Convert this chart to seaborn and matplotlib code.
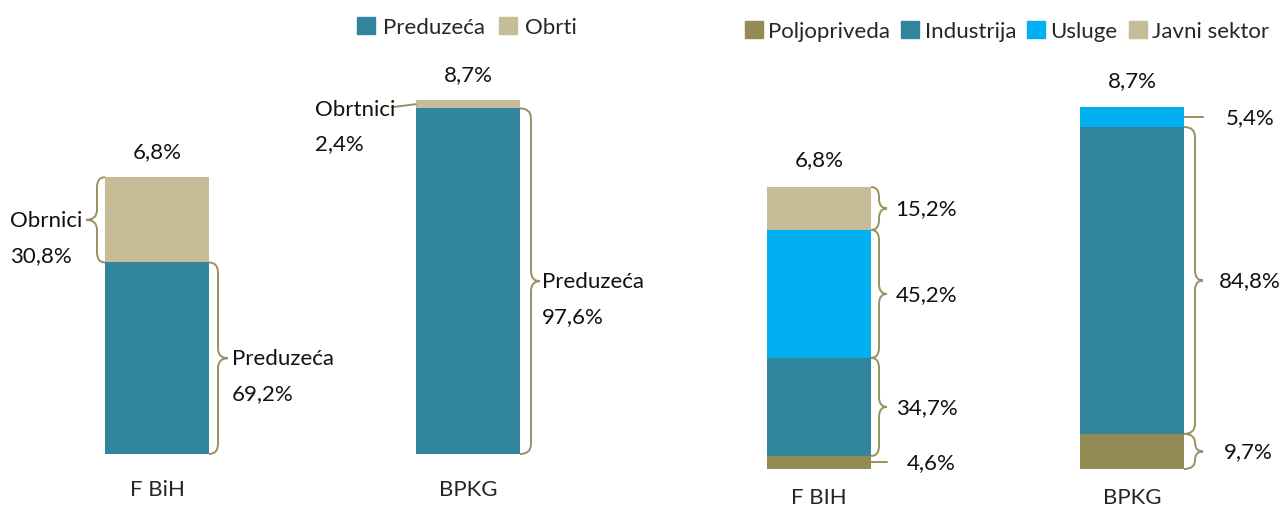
import numpy as np
import matplotlib
matplotlib.use("Agg")
import matplotlib.pyplot as plt
from matplotlib.path import Path
from matplotlib.patches import PathPatch, Patch
import seaborn as sns

### data
# left: enterprises vs crafts
regions_left = ["F BiH", "BPKG"]
totals_left = [6.8, 8.7]
preduzeca_share = [69.2, 97.6]
obrti_share = [30.8, 2.4]

# right: by sector
regions_right = ["F BIH", "BPKG"]
totals_right = [6.8, 8.7]
poljo_share = [4.6, 9.7]
industrija_share = [34.7, 84.8]
usluge_share = [45.2, 5.4]
javni_share = [15.2, 0.0]

TEAL = "#31859C"
TAN = "#C4BD97"
CYAN = "#00B0F0"
OLIVE = "#948A54"
BRACE = "#9A9060"

sns.set_theme(style="white")
plt.rcParams["font.family"] = ["Lato", "DejaVu Sans"]
FS = 16

fig = plt.figure(figsize=(12.8, 5.1), dpi=100)
W, H = 1280, 510

axL = fig.add_axes([1.5 / W, 55 / H, 622 / W, 407 / H])
axR = fig.add_axes([662.5 / W, 40 / H, 610.35 / W, 416 / H])
wL = 104 / 311
wR = 104 / 313


def stacked(ax, cats, totals, shares, colors, width):
    totals = np.array(totals, dtype=float)
    cum = np.zeros(len(cats))
    bounds = []
    for sh in shares:
        seg = totals * np.array(sh) / 100
        bounds.append((cum.copy(), cum + seg))
        cum = cum + seg
    # draw cumulative tops, biggest first, so lower layers overlay
    for (lo, hi), col in reversed(list(zip(bounds, colors))):
        sns.barplot(x=cats, y=hi, color=col, width=width, saturation=1,
                    linewidth=0, ax=ax)
    return bounds, totals


def px(ax, n, axis="x"):
    bb = ax.get_position()
    if axis == "x":
        lo, hi = ax.get_xlim()
        return n * (hi - lo) / (bb.width * W)
    lo, hi = ax.get_ylim()
    return n * (hi - lo) / (bb.height * H)


def brace(ax, x, y0, y1, side=1, dx=9, tip=9, r=10):
    ddx = px(ax, dx) * side
    dtip = px(ax, tip) * side
    rr = min(px(ax, r, "y"), (y1 - y0) / 4)
    ym = (y0 + y1) / 2
    xs = x + ddx
    verts = [(x, y1), (xs, y1), (xs, y1 - rr),
             (xs, ym + rr), (xs, ym), (xs + dtip, ym),
             (xs, ym), (xs, ym - rr),
             (xs, y0 + rr), (xs, y0), (x, y0)]
    codes = [Path.MOVETO, Path.CURVE3, Path.CURVE3,
             Path.LINETO, Path.CURVE3, Path.CURVE3,
             Path.CURVE3, Path.CURVE3,
             Path.LINETO, Path.CURVE3, Path.CURVE3]
    ax.add_patch(PathPatch(Path(verts, codes), facecolor="none",
                           edgecolor=BRACE, lw=1.4, clip_on=False))
    return xs + dtip, ym


def label(ax, xy, text, off, ha="left"):
    ax.annotate(text, xy=xy, xytext=off, textcoords="offset pixels",
                ha=ha, va="center", fontsize=FS, color="#111111",
                annotation_clip=False)


def pct(v):
    return f"{v:.1f}%".replace(".", ",")


boundsL, totL = stacked(axL, regions_left, totals_left,
                        [preduzeca_share, obrti_share], [TEAL, TAN], wL)
boundsR, totR = stacked(axR, regions_right, totals_right,
                        [poljo_share, industrija_share, usluge_share, javni_share],
                        [OLIVE, TEAL, CYAN, TAN], wR)
axL.set_xlim(-0.5, 1.5)
axR.set_xlim(-0.5, 1.45)
axL.set_ylim(0, 10)
axR.set_ylim(0, 10)

# totals on top
for ax, tots, pad in ((axL, totL, 26), (axR, totR, 27)):
    for i, t in enumerate(tots):
        label(ax, (i, t), pct(t), (0, pad), ha="center")

# left panel annotations
lo, hi = boundsL[1]
tx, ty = brace(axL, 0 - wL / 2, lo[0], hi[0], side=-1, dx=8, tip=11)
label(axL, (tx, ty), "Obrnici", (-76, 0))
label(axL, (tx, ty), pct(obrti_share[0]), (-76, -35))

lo, hi = boundsL[0]
tx, ty = brace(axL, 0 + wL / 2, lo[0], hi[0], side=1, dx=9, tip=10)
label(axL, (tx, ty), "Preduzeća", (4, 0))
label(axL, (tx, ty), pct(preduzeca_share[0]), (4, -35))
tx, ty = brace(axL, 1 + wL / 2, lo[1], hi[1], side=1, dx=11, tip=9)
label(axL, (tx, ty), "Preduzeća", (2, 0))
label(axL, (tx, ty), pct(preduzeca_share[1]), (2, -35))

lo, hi = boundsL[1]
ex, ey = 1 - wL / 2, (lo[1] + hi[1]) / 2
axL.plot([ex, ex - px(axL, 24)], [ey, ey - px(axL, 3, "y")], color=BRACE,
         lw=1.4, clip_on=False)
label(axL, (ex, ey), "Obrtnici", (-101, -5))
label(axL, (ex, ey), pct(obrti_share[1]), (-101, -39))

# right panel annotations
specs = [(0, 3, 8), (0, 2, 9), (0, 1, 9), (1, 1, 16), (1, 0, 21)]
shares_r = [poljo_share, industrija_share, usluge_share, javni_share]
for i, k, off in specs:
    lo, hi = boundsR[k]
    dx = 8 if i == 0 else 11
    tx, ty = brace(axR, i + wR / 2, lo[i], hi[i], side=1, dx=dx, tip=8)
    label(axR, (tx, ty), pct(shares_r[k][i]), (off, 0))

for i, k, ln, off in [(0, 0, 16, 36), (1, 2, 19, 42)]:
    lo, hi = boundsR[k]
    ex, ey = i + wR / 2, (lo[i] + hi[i]) / 2
    axR.plot([ex, ex + px(axR, ln)], [ey, ey], color=BRACE, lw=1.4,
             clip_on=False)
    label(axR, (ex, ey), pct(shares_r[k][i]), (off, 0))

for ax, pad in ((axL, 18), (axR, 13)):
    ax.set_xlabel("")
    ax.set_ylabel("")
    ax.set_yticks([])
    ax.tick_params(axis="x", length=0, pad=pad, labelsize=FS)
    sns.despine(ax=ax, left=True, bottom=True)

fig.legend(handles=[Patch(color=TEAL, label="Preduzeća"),
                    Patch(color=TAN, label="Obrti")],
           loc="center", bbox_to_anchor=(467 / W, 1 - 28 / H), ncol=2,
           frameon=False, fontsize=FS, handlelength=0.8, handleheight=0.8,
           handletextpad=0.4, columnspacing=0.6)
fig.legend(handles=[Patch(color=c, label=s) for c, s in
                    zip([OLIVE, TEAL, CYAN, TAN],
                        ["Poljopriveda", "Industrija", "Usluge", "Javni sektor"])],
           loc="center", bbox_to_anchor=(1007 / W, 1 - 32 / H), ncol=4,
           frameon=False, fontsize=FS, handlelength=0.8, handleheight=0.8,
           handletextpad=0.25, columnspacing=0.5)

fig.savefig("out.png", dpi=100)
